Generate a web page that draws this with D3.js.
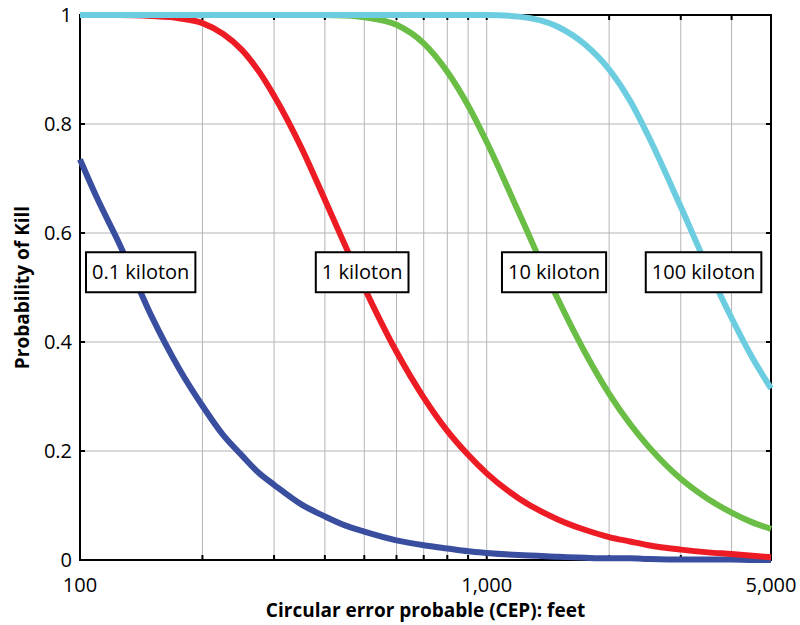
<!DOCTYPE html>
<html>
<head>
<meta charset="utf-8">
<script src="https://cdn.jsdelivr.net/npm/d3@7"></script>
<style>
  body { margin: 0; background: #fff; }
  svg { display: block; font-family: "Open Sans", "Noto Sans", sans-serif; }
</style>
</head>
<body>
<svg id="chart" width="800" height="625"></svg>
<script>
// CEP values (feet) at which the curves were read
var cep = [100, 110, 125, 150, 175, 200, 225, 250, 275, 300, 350, 400, 450, 500, 600, 700, 800, 900, 1000, 1200, 1500, 1750, 2000, 2250, 2500, 3000, 3500, 4000, 4500, 5000];

var pk01 = [0.735, 0.665, 0.58, 0.447, 0.352, 0.283, 0.229, 0.192, 0.16, 0.138, 0.102, 0.08, 0.063, 0.052, 0.036, 0.027, 0.021, 0.016, 0.013, 0.009, 0.006, 0.004, 0.003, 0.003, 0.002, 0.001, 0.001, 0.001, 0.0, 0.0];
var pk1 = [1, 1, 1, 0.998, 0.994, 0.985, 0.965, 0.936, 0.897, 0.852, 0.757, 0.661, 0.575, 0.5, 0.382, 0.298, 0.237, 0.193, 0.159, 0.113, 0.074, 0.055, 0.042, 0.034, 0.027, 0.019, 0.014, 0.011, 0.008, 0.005];
var pk10 = [1, 1, 1, 1, 1, 1, 1, 1, 1, 1, 1, 1, 0.999, 0.996, 0.982, 0.948, 0.896, 0.834, 0.767, 0.637, 0.477, 0.379, 0.305, 0.25, 0.208, 0.149, 0.112, 0.087, 0.069, 0.057];
var pk100 = [1, 1, 1, 1, 1, 1, 1, 1, 1, 1, 1, 1, 1, 1, 1, 1, 1, 1, 1, 0.997, 0.978, 0.945, 0.9, 0.843, 0.777, 0.648, 0.535, 0.444, 0.371, 0.315];

var seriesNames = ['0.1 kiloton', '1 kiloton', '10 kiloton', '100 kiloton'];
var seriesValues = [pk01, pk1, pk10, pk100];
var seriesColors = ['#3a4ea0', '#ed1c24', '#6abd45', '#6ccde0'];

// where the boxed labels sit (CEP, probability)
var labelCep = [141, 494, 1464, 3413];
var labelP = [0.528, 0.528, 0.528, 0.528];

var xLabelTicks = [100, 1000, 5000];
var xGridTicks = [200, 300, 400, 500, 600, 700, 800, 900, 1000, 2000, 3000, 4000];
var yTicks = [0, 0.2, 0.4, 0.6, 0.8, 1];

var svg = d3.select('#chart');
var margin = {top: 15, right: 29, bottom: 65, left: 80};
var w = 800 - margin.left - margin.right;
var h = 625 - margin.top - margin.bottom;

var x = d3.scaleLog().domain([100, 5000]).range([0, w]);
var y = d3.scaleLinear().domain([0, 1]).range([h, 0]);

var g = svg.append('g').attr('transform', 'translate(' + margin.left + ',' + margin.top + ')');

// grid
g.selectAll('line.vgrid').data(xGridTicks).enter().append('line')
    .attr('class', 'vgrid')
    .attr('x1', function(d){ return x(d); })
    .attr('x2', function(d){ return x(d); })
    .attr('y1', 0).attr('y2', h)
    .style('stroke', '#b4b4b4').style('stroke-width', 1);
g.selectAll('line.hgrid').data(yTicks.slice(1, -1)).enter().append('line')
    .attr('class', 'hgrid')
    .attr('y1', function(d){ return y(d); })
    .attr('y2', function(d){ return y(d); })
    .attr('x1', 0).attr('x2', w)
    .style('stroke', '#b4b4b4').style('stroke-width', 1);

// inward ticks on all four sides
var tickLen = 5;
var ticks = g.append('g').style('stroke', '#000').style('stroke-width', 2);
xGridTicks.forEach(function(d){
    ticks.append('line').attr('x1', x(d)).attr('x2', x(d)).attr('y1', h).attr('y2', h - tickLen);
    ticks.append('line').attr('x1', x(d)).attr('x2', x(d)).attr('y1', 0).attr('y2', tickLen);
});
yTicks.forEach(function(d){
    ticks.append('line').attr('y1', y(d)).attr('y2', y(d)).attr('x1', 0).attr('x2', tickLen);
    ticks.append('line').attr('y1', y(d)).attr('y2', y(d)).attr('x1', w).attr('x2', w - tickLen);
});

// frame
g.append('rect')
    .attr('x', 0).attr('y', 0).attr('width', w).attr('height', h)
    .style('fill', 'none').style('stroke', '#000').style('stroke-width', 2);

// curves
var line = d3.line()
    .x(function(d){ return x(d[0]); })
    .y(function(d){ return y(d[1]); })
    .curve(d3.curveMonotoneX);

seriesValues.forEach(function(vals, i){
    var pts = cep.map(function(c, k){ return [c, vals[k]]; });
    g.append('path')
        .datum(pts)
        .attr('d', line)
        .style('fill', 'none')
        .style('stroke', seriesColors[i])
        .style('stroke-width', 6);
});

// boxed labels
seriesNames.forEach(function(name, i){
    var lg = g.append('g')
        .attr('transform', 'translate(' + x(labelCep[i]) + ',' + y(labelP[i]) + ')');
    var bg = lg.append('rect').style('fill', '#fff').style('stroke', '#000').style('stroke-width', 2);
    var t = lg.append('text')
        .text(name)
        .attr('text-anchor', 'middle')
        .attr('dy', '0.35em')
        .style('font-size', '20px')
        .style('fill', '#000');
    var bb = t.node().getBBox();
    bg.attr('x', -bb.width / 2 - 6).attr('y', -20)
        .attr('width', bb.width + 12).attr('height', 40);
});

// tick labels
g.selectAll('text.xlab').data(xLabelTicks).enter().append('text')
    .attr('class', 'xlab')
    .attr('x', function(d){ return x(d); })
    .attr('y', h + 32)
    .attr('text-anchor', 'middle')
    .style('font-size', '20px')
    .text(function(d){ return d3.format(',')(d); });

g.selectAll('text.ylab').data(yTicks).enter().append('text')
    .attr('class', 'ylab')
    .attr('x', -8)
    .attr('y', function(d){ return y(d); })
    .attr('dy', '0.35em')
    .attr('text-anchor', 'end')
    .style('font-size', '20px')
    .text(function(d){ return d; });

// axis titles
svg.append('text')
    .attr('x', margin.left + w / 2)
    .attr('y', 617)
    .attr('text-anchor', 'middle')
    .style('font-size', '19px')
    .style('font-weight', 'bold')
    .text('Circular error probable (CEP): feet');

svg.append('text')
    .attr('transform', 'translate(29,' + (margin.top + h / 2) + ') rotate(-90)')
    .attr('text-anchor', 'middle')
    .style('font-size', '19px')
    .style('font-weight', 'bold')
    .text('Probability of Kill');
</script>
</body>
</html>
